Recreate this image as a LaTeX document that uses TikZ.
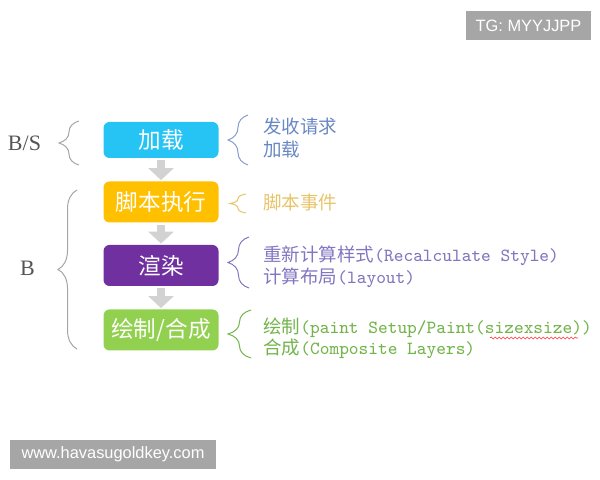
\documentclass[tikz,border=0pt]{standalone}
\usepackage{fontspec}
\setmainfont{Liberation Serif}
\newfontfamily\cjk{Noto Sans CJK SC}
\newfontfamily\wmfont{Liberation Sans}
\usepackage{xcolor}
\usepackage{tikz}
\usetikzlibrary{arrows.meta,positioning,decorations.pathreplacing,decorations.pathmorphing}

\definecolor{loadcyan}{RGB}{38,196,244}
\definecolor{scriptorange}{RGB}{255,192,0}
\definecolor{renderpurple}{RGB}{112,48,160}
\definecolor{paintgreen}{RGB}{146,208,80}
\definecolor{arrowgray}{RGB}{210,210,210}
\definecolor{wmgray}{RGB}{166,166,166}
\definecolor{bracegray}{RGB}{165,165,165}
\definecolor{labelgray}{RGB}{85,85,85}
\definecolor{reqblue}{RGB}{105,135,195}
\definecolor{evtyellow}{RGB}{232,196,105}
\definecolor{laypurple}{RGB}{130,118,192}
\definecolor{compgreen}{RGB}{115,180,75}

\newcommand{\zh}[1]{{\cjk #1}}

\begin{document}
\begin{tikzpicture}[x=0.5pt,y=-0.5pt,
    stage/.style={rounded corners=3pt, minimum width=57.5pt, minimum height=20.5pt,
        inner sep=0pt, text=white, font=\cjk\fontsize{11.3}{13}\selectfont},
    flow/.style={arrowgray, line width=4pt, -{Triangle[width=12.5pt,length=6pt]},
        shorten <=1pt, shorten >=0.5pt},
    brc/.style={decorate, decoration={brace, amplitude=#1}, line width=0.5pt},
    note/.style={anchor=base west, inner sep=0pt, font=\fontsize{9.25}{11}\selectfont},
    side/.style={labelgray, inner sep=0pt, font=\fontsize{11}{13}\selectfont},
    wm/.style={fill=wmgray, text=white, inner sep=0pt, minimum height=14.5pt,
        font=\wmfont\fontsize{8.2}{10}\selectfont}]
    \useasboundingbox (0,0) rectangle (600,480);

    % pipeline stages
    \node[stage, fill=loadcyan, minimum height=18pt] (load) at (161,140) {加载};
    \node[stage, fill=scriptorange] (script) at (161,202) {脚本执行};
    \node[stage, fill=renderpurple] (render) at (161,265.5) {渲染};
    \node[stage, fill=paintgreen] (paint) at (161,330) {绘制/合成};

    \draw[flow] (load) -- (script);
    \draw[flow] (script) -- (render);
    \draw[flow] (render) -- (paint);

    % left side: B/S and B
    \node[side] (bs) at (24.5,143) {B/S};
    \node[side] (b) at (27.5,268) {B};
    \draw[brc=10pt, bracegray] (79,165) -- (79,121);
    \draw[brc=9.5pt, bracegray] (77,349) -- (77,190);

    % right side notes
    \draw[brc=10pt, reqblue!80] (248,165) -- (248,115);
    \node[note, reqblue] (req1) at (263,134) {\zh{发收请求}};
    \node[note, reqblue] (req2) at (263,157) {\zh{加载}};

    \draw[brc=8pt, evtyellow] (246,213) -- (246,194);
    \node[note, evtyellow] (evt) at (263,210) {\zh{脚本事件}};

    \draw[brc=10.5pt, laypurple] (249,288) -- (249,237);
    \node[note, laypurple] (lay1) at (263,262) {\zh{重新计算样式}\texttt{(Recalculate Style)}};
    \node[note, laypurple] (lay2) at (263,284) {\zh{计算布局}\texttt{(layout)}};

    \draw[brc=11.5pt, compgreen] (251,358) -- (251,310);
    \node[note, compgreen] (comp1) at (263,334) {\zh{绘制}\texttt{(paint Setup/Paint(sizexsize))}};
    \node[note, compgreen] (comp2) at (263,355) {\zh{合成}\texttt{(Composite Layers)}};
    \draw[red!80, line width=0.3pt, decorate,
        decoration={snake, amplitude=0.5pt, segment length=2pt}] (490,338) -- (578,338);

    % watermarks
    \node[wm, minimum width=62.5pt] (tg) at (528.5,25.5) {TG: MYYJJPP};
    \node[wm, minimum width=103pt] (site) at (113,454.5) {www.havasugoldkey.com};
\end{tikzpicture}
\end{document}
